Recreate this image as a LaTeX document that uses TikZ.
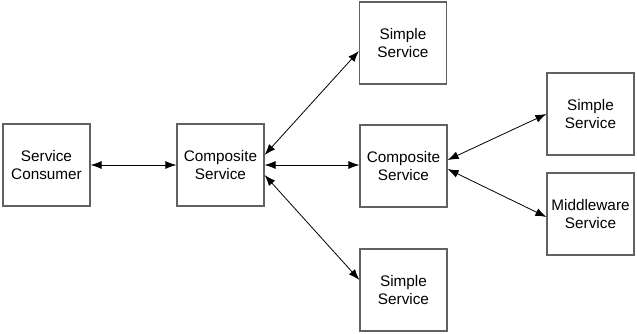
\documentclass[tikz,border=0pt]{standalone}
\usepackage{fontspec}
\setmainfont{Liberation Sans}
\usetikzlibrary{arrows.meta}
\begin{document}
\begin{tikzpicture}[x=1pt,y=-1pt,
  svcbox/.style={draw=black!62,line width=1.2pt,minimum width=87pt,minimum height=82pt,inner sep=0pt,align=center,font=\fontsize{15.3}{18}\selectfont},
  conn/.style={draw=black,line width=0.8pt,{Latex[length=11pt,width=8pt]}-{Latex[length=11pt,width=8pt]}}]
\useasboundingbox (0,0) rectangle (637,334);
\fill[white] (0,0) rectangle (637,334);
\node[svcbox] (sc) at (46.5,165) {Service\\Consumer};
\node[svcbox] (c1) at (220.5,165) {Composite\\Service};
\node[svcbox] (s1) at (403,43) {Simple\\Service};
\node[svcbox] (c2) at (403.5,166) {Composite\\Service};
\node[svcbox] (s2) at (403.5,290) {Simple\\Service};
\node[svcbox] (s3) at (590.5,114) {Simple\\Service};
\node[svcbox] (mw) at (590.5,214) {Middleware\\Service};
\draw[conn] (sc.east) -- (c1.west);
\draw[conn] ([yshift=10pt]c1.east) -- ([yshift=-8pt]s1.west);
\draw[conn] (c1.east) -- (c1.east -| c2.west);
\draw[conn] ([yshift=-10pt]c1.east) -- ([yshift=10pt]s2.west);
\draw[conn] ([yshift=6pt]c2.east) -- (s3.west);
\draw[conn] ([yshift=-3pt]c2.east) -- ([yshift=-3pt]mw.west);
\end{tikzpicture}
\end{document}
